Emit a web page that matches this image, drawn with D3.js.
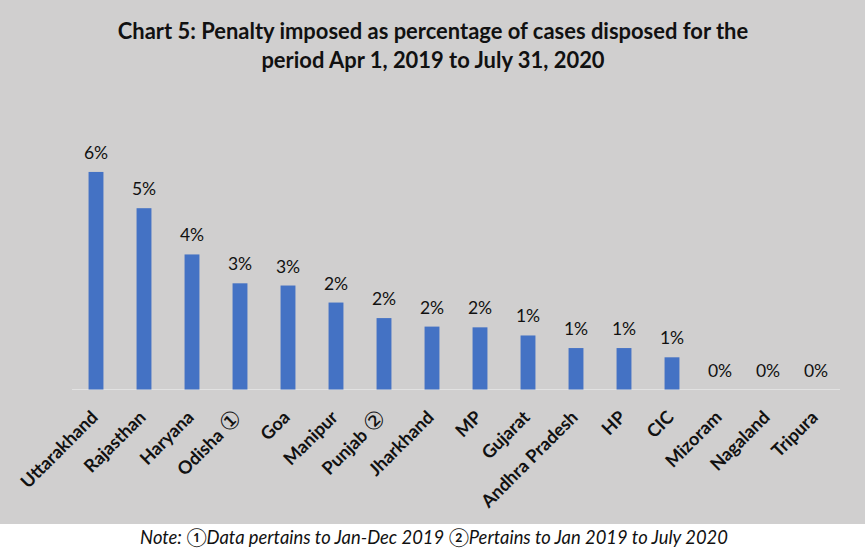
<!DOCTYPE html>
<html>
<head>
<meta charset="utf-8">
<script src="https://cdn.jsdelivr.net/npm/d3@7"></script>
<style>
  html, body { margin: 0; padding: 0; background: #ffffff; }
  svg { display: block; }
</style>
</head>
<body>
<svg id="chart" width="868" height="554"></svg>
<script>
// ---- Data ----
const titleLines = [
  "Chart 5: Penalty imposed as percentage of cases disposed for the",
  "period Apr 1, 2019 to July 31, 2020"
];
const categories = [
  "Uttarakhand", "Rajasthan", "Haryana", "Odisha \u2460", "Goa", "Manipur",
  "Punjab \u2461", "Jharkhand", "MP", "Gujarat", "Andhra Pradesh", "HP",
  "CIC", "Mizoram", "Nagaland", "Tripura"
];
const values = [
  5.88, 4.90, 3.65, 2.87, 2.81, 2.35,
  1.93, 1.70, 1.68, 1.46, 1.12, 1.12,
  0.87, 0, 0, 0
];
const noteText = "Note: \u2460Data pertains to Jan-Dec 2019 \u2461Pertains to Jan 2019 to July 2020";

// ---- Layout ----
const svg = d3.select("#chart");
const plot = { left: 72, right: 840, bottom: 389.5 };
const FONT = "Lato, 'Open Sans', sans-serif";

svg.append("rect").attr("x", 0).attr("y", 0).attr("width", 865).attr("height", 524)
  .attr("fill", "#d0cfcf");

const x = d3.scaleBand().domain(categories).range([plot.left, plot.right])
  .paddingInner(0.69).paddingOuter(0.345);
const y = d3.scaleLinear().domain([0, 1]).range([plot.bottom, plot.bottom - 37]);

// baseline
svg.append("line").attr("x1", plot.left).attr("x2", plot.right)
  .attr("y1", plot.bottom).attr("y2", plot.bottom)
  .attr("stroke", "#e2e2e2").attr("stroke-width", 1.2);

// bars
svg.append("g").selectAll("rect").data(categories).join("rect")
  .attr("x", d => x(d))
  .attr("width", x.bandwidth())
  .attr("y", (d, i) => y(values[i]))
  .attr("height", (d, i) => plot.bottom - y(values[i]))
  .attr("fill", "#4472c4");

// value labels
svg.append("g").selectAll("text").data(categories).join("text")
  .attr("x", d => x(d) + x.bandwidth() / 2)
  .attr("y", (d, i) => y(values[i]) - 13)
  .attr("text-anchor", "middle")
  .attr("font-family", FONT)
  .attr("font-size", 17.5)
  .attr("fill", "#111")
  .text((d, i) => Math.round(values[i]) + "%");

// category labels via axis
const xAxis = d3.axisBottom(x).tickSize(0).tickPadding(0);
const axisG = svg.append("g").attr("transform", `translate(0,${plot.bottom})`).call(xAxis);
axisG.select(".domain").remove();
axisG.selectAll(".tick text")
  .attr("font-family", FONT)
  .attr("font-weight", "bold")
  .attr("font-size", 18)
  .attr("fill", "#111")
  .attr("text-anchor", "end")
  .attr("dy", null)
  .attr("dominant-baseline", "central")
  .attr("y", 0)
  .attr("transform", "translate(-2,24) rotate(-45)")
  .each(function(d) {
    const m = d.match(/^(.*) ([\u2460-\u2473])$/);
    if (m) {
      const t = d3.select(this).text(null);
      t.append("tspan").text(m[1] + " ");
      t.append("tspan").attr("font-weight", "normal").attr("font-size", 24)
        .attr("font-family", "'DejaVu Sans', sans-serif").text(m[2]);
    }
  });

// title
function fitText(sel, target) {
  const len = sel.node().getComputedTextLength();
  const fs = parseFloat(sel.attr("font-size"));
  sel.attr("font-size", fs * target / len);
}
const t1 = svg.append("text").attr("x", 433).attr("y", 39).attr("text-anchor", "middle")
  .attr("font-family", FONT).attr("font-weight", "bold")
  .attr("font-size", 18).attr("fill", "#111").text(titleLines[0]);
fitText(t1, 631);
const t2 = svg.append("text").attr("x", 433).attr("y", 68).attr("text-anchor", "middle")
  .attr("font-family", FONT).attr("font-weight", "bold")
  .attr("font-size", t1.attr("font-size")).attr("fill", "#111").text(titleLines[1]);

// note
const nt = svg.append("text").attr("x", 434).attr("y", 544).attr("text-anchor", "middle")
  .attr("font-family", FONT).attr("font-style", "italic")
  .attr("font-size", 16).attr("fill", "#111").text(noteText);
fitText(nt, 588);
</script>
</body>
</html>
